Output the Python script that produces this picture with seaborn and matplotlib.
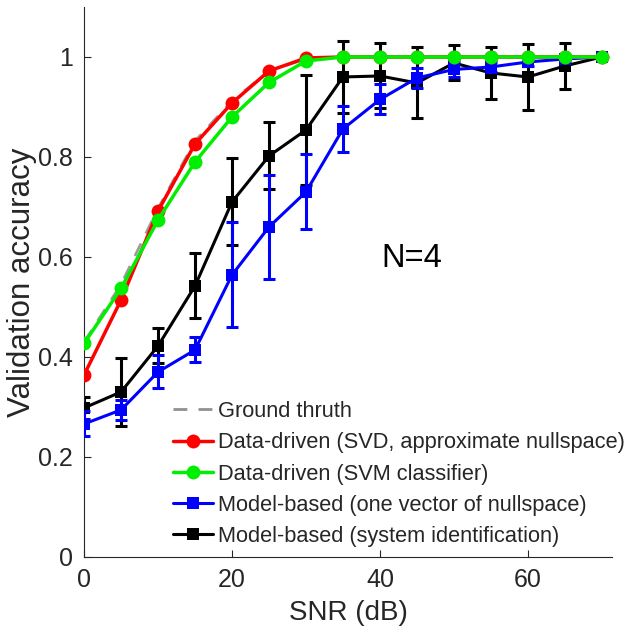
import matplotlib

matplotlib.use("Agg")
import matplotlib.pyplot as plt
import seaborn as sns
from matplotlib.lines import Line2D

sns.set_theme(style="ticks")
plt.rcParams["font.family"] = ["Liberation Sans", "DejaVu Sans"]

# SNR grid (dB)
snr = [0, 5, 10, 15, 20, 25, 30, 35, 40, 45, 50, 55, 60, 65, 70]

ground_truth = [0.43, 0.545, 0.697, 0.832, 0.912, 0.972, 0.996, 1.0, 1.0, 1.0, 1.0, 1.0, 1.0, 1.0, 1.0]
svd_acc = [0.364, 0.514, 0.692, 0.826, 0.908, 0.972, 0.998, 1.0, 1.0, 1.0, 1.0, 1.0, 1.0, 1.0, 1.0]
svm_acc = [0.427, 0.537, 0.674, 0.79, 0.88, 0.949, 0.992, 1.0, 1.0, 1.0, 1.0, 1.0, 1.0, 1.0, 1.0]

nullvec_acc = [0.266, 0.294, 0.37, 0.414, 0.564, 0.66, 0.73, 0.856, 0.915, 0.958, 0.975, 0.98, 0.99, 0.996, 1.0]
nullvec_err = [0.025, 0.02, 0.033, 0.025, 0.105, 0.104, 0.075, 0.046, 0.03, 0.02, 0.015, 0.01, 0.008, 0.005, 0.0]

sysid_acc = [0.298, 0.33, 0.422, 0.542, 0.71, 0.802, 0.854, 0.96, 0.962, 0.948, 0.988, 0.968, 0.96, 0.982, 1.0]
sysid_err = [0.022, 0.068, 0.035, 0.065, 0.087, 0.067, 0.11, 0.072, 0.065, 0.071, 0.035, 0.052, 0.066, 0.046, 0.0]

labels = [
    "Ground thruth",
    "Data-driven (SVD, approximate nullspace)",
    "Data-driven (SVM classifier)",
    "Model-based (one vector of nullspace)",
    "Model-based (system identification)",
]

AX_COLOR = "#262626"
GRAY = "#909090"
RED = "#ff0000"
GREEN = "#00ee00"
BLUE = "#0000ff"
DASH = (0, (5, 4))

fig = plt.figure(figsize=(6.37, 6.35), dpi=100)
ax = fig.add_axes([0.132, 0.123, 0.829, 0.866])

# black: system identification (drawn first, sits underneath)
ax.errorbar(snr, sysid_acc, yerr=sysid_err, fmt="none", ecolor="black",
            elinewidth=2.2, capsize=4, capthick=2.2, zorder=2)
sns.lineplot(x=snr, y=sysid_acc, ax=ax, color="black", lw=2.2, marker="s",
             markersize=8, markeredgewidth=0, zorder=3)

# blue: one vector of nullspace
ax.errorbar(snr, nullvec_acc, yerr=nullvec_err, fmt="none", ecolor=BLUE,
            elinewidth=2.2, capsize=4, capthick=2.2, zorder=4)
sns.lineplot(x=snr, y=nullvec_acc, ax=ax, color=BLUE, lw=2.2, marker="s",
             markersize=8, markeredgewidth=0, zorder=5)

# data driven
sns.lineplot(x=snr, y=svd_acc, ax=ax, color=RED, lw=2.5, marker="o",
             markersize=10, markeredgewidth=0, zorder=6)
sns.lineplot(x=snr, y=svm_acc, ax=ax, color=GREEN, lw=2.5, marker="o",
             markersize=10, markeredgewidth=0, zorder=7)

# ground truth
sns.lineplot(x=snr, y=ground_truth, ax=ax, color=GRAY, lw=2.0,
             linestyle=DASH, zorder=5.5, alpha=0.9)

ax.set_xlim(0, 71.4)
ax.set_ylim(0, 1.1)
ax.set_xticks([0, 20, 40, 60])
ax.set_yticks([0, 0.2, 0.4, 0.6, 0.8, 1.0])
ax.set_yticklabels(["0", "0.2", "0.4", "0.6", "0.8", "1"])

for side in ("top", "right"):
    ax.spines[side].set_visible(False)
for side in ("left", "bottom"):
    ax.spines[side].set_color(AX_COLOR)
    ax.spines[side].set_linewidth(0.8)
ax.tick_params(direction="in", length=5, width=0.8, color=AX_COLOR,
               labelsize=18, labelcolor=AX_COLOR, pad=8)

ax.set_xlabel("SNR (dB)", fontsize=20, color=AX_COLOR, labelpad=6)
ax.set_ylabel("Validation accuracy", fontsize=22.5, color=AX_COLOR, labelpad=1)

ax.text(44.3, 0.596, "N=4", fontsize=23.5, ha="center", va="center", color="black")

handles = [
    Line2D([], [], color=GRAY, lw=2.0, linestyle=DASH),
    Line2D([], [], color=RED, lw=2.5, marker="o", markersize=10, markeredgewidth=0),
    Line2D([], [], color=GREEN, lw=2.5, marker="o", markersize=10, markeredgewidth=0),
    Line2D([], [], color=BLUE, lw=2.2, marker="s", markersize=8, markeredgewidth=0),
    Line2D([], [], color="black", lw=2.2, marker="s", markersize=8, markeredgewidth=0),
]
ax.legend(handles, labels, loc="lower left", bbox_to_anchor=(0.152, 0.002),
          frameon=False, fontsize=15.7, handlelength=1.85, handletextpad=0.2,
          labelspacing=0.47, borderaxespad=0.0)

fig.savefig("out.png", dpi=100)
